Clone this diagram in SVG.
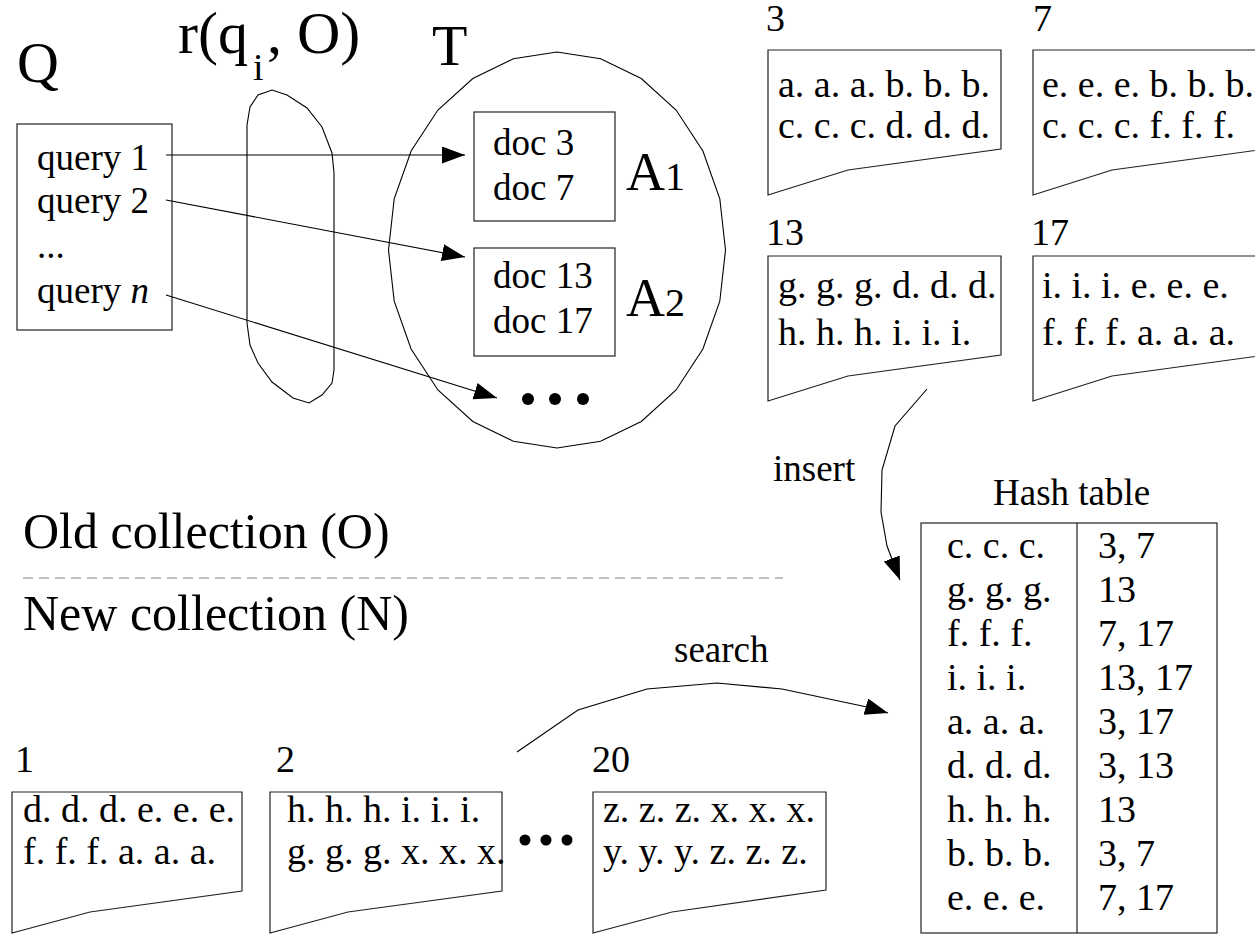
<svg xmlns="http://www.w3.org/2000/svg" width="1255" height="935" viewBox="0 0 1255 935">
<defs>
<style>
text{font-family:"Liberation Serif","Times New Roman",serif;fill:#000}
.big{font-size:58px}
.mid{font-size:50px}
.t37{font-size:37px}
.t38{font-size:38px}
.box{fill:#fff;stroke:#222;stroke-width:1.2}
.doc{fill:#fff;stroke:#222;stroke-width:1.2}
.ln{fill:none;stroke:#000;stroke-width:1.1}
.dot{fill:#000}
</style>
<marker id="ah" markerUnits="userSpaceOnUse" markerWidth="24" markerHeight="18" refX="23" refY="8.5" orient="auto">
<path d="M0,0 L23,8.5 L0,17 z" fill="#000"/>
</marker>
</defs>
<rect width="1255" height="935" fill="#fff"/>

<g id="label-Q"><text class="big" x="17" y="82">Q</text></g>
<g id="label-r">
<text x="178" y="53" style="font-size:60px">r(q</text>
<text x="253" y="80" style="font-size:38px">i</text>
<text x="267" y="53" style="font-size:60px">, O)</text>
</g>
<g id="label-T"><text class="big" x="432" y="65">T</text></g>

<g id="node-Q">
<rect class="box" x="17" y="124" width="155" height="206"/>
<text class="t37" x="37" y="170">query 1</text>
<text class="t37" x="37" y="213">query 2</text>
<text class="t37" x="37" y="258">...</text>
<text class="t37" x="37" y="303">query <tspan font-style="italic">n</tspan></text>
</g>

<g id="node-r">
<path class="ln" d="M247,125 L250,107 L258,95 L272,90 L287,95 L307,108 L322,127 L332,153 L334,173 L334,370 L332,383 L322,395 L309,403 L293,398 L272,382 L258,363 L250,345 L247,323 Z"/>
</g>

<g id="node-T">
<polygon class="ln" points="557,52 600.6,58.7 641.3,78.5 676.1,110 702.9,151 719.8,198.8 725.5,250 719.8,301.2 702.9,349 676.1,390 641.3,421.5 600.6,441.3 557,448 513.4,441.3 472.8,421.5 437.9,390 411.1,349 394.2,301.2 388.5,250 394.2,198.8 411.1,151 437.9,110 472.8,78.5 513.4,58.7"/>
</g>

<g id="node-A1">
<rect class="box" x="474" y="112" width="141" height="109"/>
<text class="t37" x="493" y="155">doc 3</text>
<text class="t37" x="493" y="200">doc 7</text>
<text x="626" y="190" style="font-size:54px">A<tspan style="font-size:40px">1</tspan></text>
</g>

<g id="node-A2">
<rect class="box" x="474" y="248" width="141" height="108"/>
<text class="t37" x="493" y="288">doc 13</text>
<text class="t37" x="493" y="333">doc 17</text>
<text x="626" y="316" style="font-size:54px">A<tspan style="font-size:40px">2</tspan></text>
</g>

<g id="node-dots-T">
<circle class="dot" cx="528" cy="399" r="6"/>
<circle class="dot" cx="555" cy="399" r="6"/>
<circle class="dot" cx="583" cy="399" r="6"/>
</g>

<g id="doc-3">
<text class="t38" x="766" y="31">3</text>
<path class="doc" d="M768,50 L1001,50 L1001,149 L848,170 L768,195 Z"/>
<text class="t38" x="778" y="97">a. a. a. b. b. b.</text>
<text class="t38" x="778" y="138">c. c. c. d. d. d.</text>
</g>
<g id="doc-7">
<text class="t38" x="1033" y="31">7</text>
<path class="doc" d="M1033,50 L1266,50 L1266,149 L1112,170 L1033,195 Z"/>
<text class="t38" x="1042" y="97">e. e. e. b. b. b.</text>
<text class="t38" x="1042" y="138">c. c. c. f. f. f.</text>
</g>
<g id="doc-13">
<text class="t38" x="766" y="245">13</text>
<path class="doc" d="M768,256 L1001,256 L1001,355 L848,376 L768,401 Z"/>
<text class="t38" x="778" y="298">g. g. g. d. d. d.</text>
<text class="t38" x="778" y="345">h. h. h. i. i. i.</text>
</g>
<g id="doc-17">
<text class="t38" x="1031" y="245">17</text>
<path class="doc" d="M1033,256 L1266,256 L1266,355 L1112,376 L1033,401 Z"/>
<text class="t38" x="1042" y="298">i. i. i. e. e. e.</text>
<text class="t38" x="1042" y="345">f. f. f. a. a. a.</text>
</g>

<g id="separator">
<text class="mid" x="23" y="548">Old collection (O)</text>
<line x1="23" y1="578" x2="783" y2="578" stroke="#808080" stroke-width="1.2" stroke-dasharray="10,6"/>
<text class="mid" x="23" y="630">New collection (N)</text>
</g>

<g id="hash-table">
<text class="t37" x="993" y="505">Hash table</text>
<rect class="box" x="921" y="523" width="296" height="410"/>
<line x1="1077" y1="523" x2="1077" y2="933" stroke="#222" stroke-width="1.2"/>
<g class="t38">
<text x="947" y="558">c. c. c.</text><text x="1098" y="558">3, 7</text>
<text x="947" y="602">g. g. g.</text><text x="1098" y="602">13</text>
<text x="947" y="646">f. f. f.</text><text x="1098" y="646">7, 17</text>
<text x="947" y="690">i. i. i.</text><text x="1098" y="690">13, 17</text>
<text x="947" y="734">a. a. a.</text><text x="1098" y="734">3, 17</text>
<text x="947" y="778">d. d. d.</text><text x="1098" y="778">3, 13</text>
<text x="947" y="822">h. h. h.</text><text x="1098" y="822">13</text>
<text x="947" y="866">b. b. b.</text><text x="1098" y="866">3, 7</text>
<text x="947" y="910">e. e. e.</text><text x="1098" y="910">7, 17</text>
</g>
</g>

<g id="doc-1">
<text class="t38" x="15" y="772">1</text>
<path class="doc" d="M12,792 L242,792 L242,891 L90,912 L12,933 Z"/>
<text class="t38" x="23" y="822">d. d. d. e. e. e.</text>
<text class="t38" x="23" y="864">f. f. f. a. a. a.</text>
</g>
<g id="doc-2">
<text class="t38" x="276" y="772">2</text>
<path class="doc" d="M270,792 L502,792 L502,891 L348,912 L270,933 Z"/>
<text class="t38" x="287" y="822">h. h. h. i. i. i.</text>
<text class="t38" x="287" y="864">g. g. g. x. x. x.</text>
</g>
<g id="node-dots-N">
<circle class="dot" cx="525" cy="840" r="5.5"/>
<circle class="dot" cx="546" cy="840" r="5.5"/>
<circle class="dot" cx="567" cy="840" r="5.5"/>
</g>
<g id="doc-20">
<text class="t38" x="592" y="772">20</text>
<path class="doc" d="M593,792 L826,792 L826,890 L672,912 L593,933 Z"/>
<text class="t38" x="603" y="822">z. z. z. x. x. x.</text>
<text class="t38" x="603" y="864">y. y. y. z. z. z.</text>
</g>

<g id="connectors">
<line class="ln" x1="166" y1="155" x2="465" y2="155" marker-end="url(#ah)"/>
<line class="ln" x1="166" y1="200" x2="465" y2="257" marker-end="url(#ah)"/>
<line class="ln" x1="166" y1="295" x2="497" y2="398" marker-end="url(#ah)"/>
<polyline class="ln" points="927,389 895,426 882,470 881,512 887,546 900,580" marker-end="url(#ah)"/>
<text class="t37" x="773" y="481">insert</text>
<polyline class="ln" points="517,752 578,710 647,689 717,683 782,689 867,707 888,713" marker-end="url(#ah)"/>
<text class="t37" x="674" y="662">search</text>
</g>
</svg>
